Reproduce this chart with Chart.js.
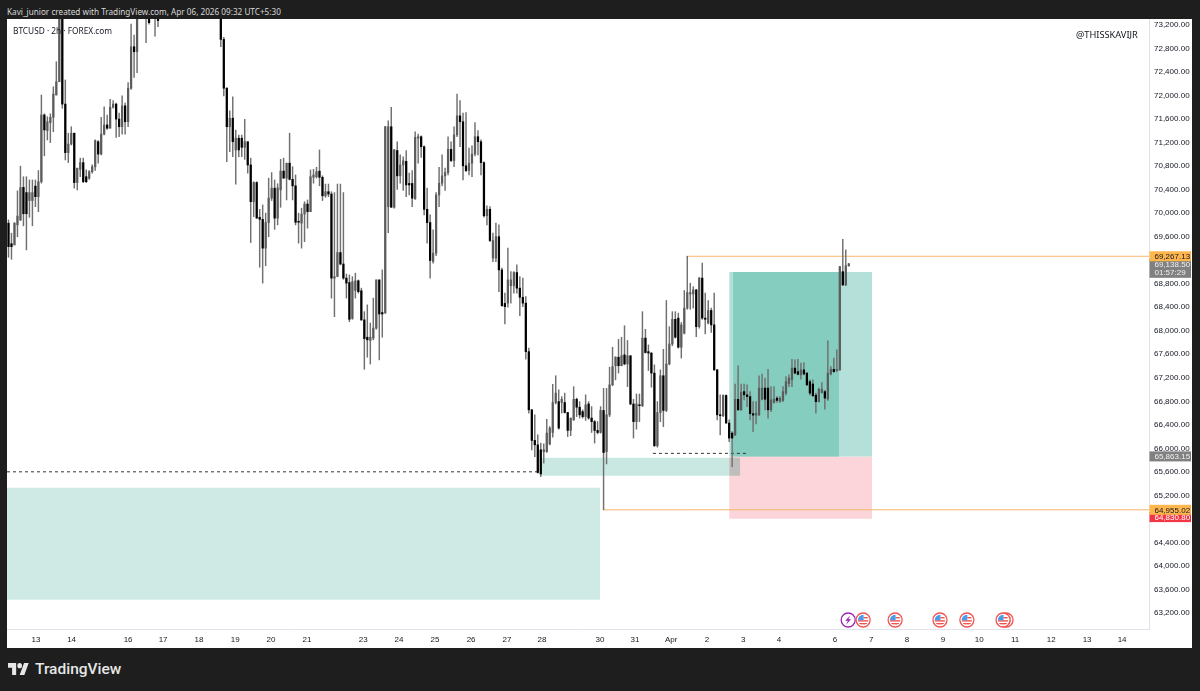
<!DOCTYPE html>
<html>
<head>
<meta charset="utf-8">
<title>BTCUSD 2h</title>
<script src="https://cdn.jsdelivr.net/npm/chart.js@4"></script>
<style>
  html, body { margin: 0; padding: 0; background: #1e1e1e; width: 1200px; height: 691px; overflow: hidden; }
  #canvas { position: absolute; left: 7px; top: 19px; background: #fff; }
  .txt { position: absolute; white-space: nowrap; font-family: "Noto Sans", sans-serif; }
  #credit { left: 7px; top: 5px; font-size: 8.2px; line-height: 14px; color: #d8d8d8; }
  #symbol { left: 13px; top: 24px; font-size: 8.3px; line-height: 14px; color: #131722; }
  #handle { left: 1076px; top: 28px; font-size: 9.25px; line-height: 14px; color: #131722; }
  #brand { left: 35px; top: 658px; font-family: Roboto, sans-serif; font-weight: 500; font-size: 15.5px; line-height: 22px; color: #e6e6e6; }
  #logo { position: absolute; left: 8px; top: 663px; }
</style>
</head>
<body>
<canvas id="canvas" width="1185" height="629"></canvas>
<div class="txt" id="credit">Kavi_junior created with TradingView.com, Apr 06, 2026 09:32 UTC+5:30</div>
<div class="txt" id="symbol">BTCUSD · 2h · FOREX.com</div>
<div class="txt" id="handle">@THISSKAVIJR</div>
<svg id="logo" width="21" height="12" viewBox="0 4 36 18" preserveAspectRatio="none"><path fill="#e6e6e6" d="M14 22H7V11H0V4h14v18zM28 22h-8l7.5-18h8L28 22z"/><circle fill="#e6e6e6" cx="20" cy="8" r="4"/></svg>
<div class="txt" id="brand">TradingView</div>
<script>
// candles (2h bars). The stretch above the top edge is a guess.
const opens = [69830,69480,69460,69800,69885,70440,70350,70215,70215,70460,70280,70535,71670,71405,71540,71630,72010,72235,73600,71855,
  71030,71175,71360,70520,70745,70860,70620,70595,70705,70790,71215,71005,71345,71500,71445,71800,71855,71600,71470,71825,
  71555,72125,72830,72745,73500,73800,73700,73400,73500,73700,73400,73400,73900,74150,74350,74500,74700,74550,74400,74550,
  74800,74900,74600,74400,74500,74650,74450,74250,74350,74050,73850,73650,72955,72125,71470,71615,71075,71275,71275,71120,
  71215,70820,70195,70520,69930,69895,69405,69840,70255,70425,69915,70395,70715,70595,70850,70575,70465,69860,69830,69985,
  70155,70025,70610,70620,70715,70610,70295,70365,70325,68895,68925,69330,69135,68895,68820,68210,68685,68850,68680,68185,
  67890,67835,67875,68045,68865,68310,68300,70110,71470,70100,71065,70635,70820,70880,70505,70505,70245,71275,71300,71130,
  70065,69840,69180,69320,70310,70510,70635,70690,71085,70895,71330,71655,71555,70805,70725,70850,71005,71300,71215,70860,
  69955,70065,69235,69235,69600,69035,68465,68470,68765,68765,68990,68725,68570,68470,67645,66655,66135,66060,65975,65945,
  65945,66075,66270,66780,66795,66780,66780,66610,66305,66485,66835,66700,66625,66540,66755,66515,66455,66305,66270,66645,
  65945,66570,67080,67405,67550,67405,67590,67435,67575,66755,66455,66740,66725,67875,67645,67620,67280,66045,66610,67235,
  66645,67435,67775,68195,68215,67720,67960,68385,68625,68625,68695,68070,68895,68215,68130,68345,68100,67335,66570,66555,
  66900,66430,66260,66230,66835,66655,66965,66910,66880,66590,66565,66570,66835,67025,67025,66655,66780,66855,66800,66815,
  66940,67100,67165,67365,67305,67250,67335,67280,67135,67095,66905,66795,66950,66965,66840,67265,67345,67325,67335,69005,
  68780,69105];
const highs = [69885,69660,69840,70380,70800,70620,70620,70565,70565,70565,70725,72010,71690,71640,71690,72150,72575,73900,73800,72265,
  71360,71470,71360,70765,70935,70935,70735,70725,70820,71245,71235,71630,71810,71670,71935,71915,71870,71700,71995,71870,
  72220,73215,73030,73700,74000,74100,74000,73700,73800,73950,73700,74100,74300,74500,74700,74900,75000,74800,74700,74950,
  75100,75000,74800,74650,74800,74850,74600,74500,74450,74200,74000,73800,72990,72135,71740,71980,71415,71330,71330,71595,
  71215,70935,70535,70535,70065,70140,70000,70595,70690,70565,70500,70915,70935,70850,71360,70790,70650,70000,70085,70195,
  70225,70735,70745,70780,71075,70635,70495,70495,70365,70350,70495,70495,70350,68965,68950,68920,68980,68865,68725,68325,
  68440,68130,68555,68865,68865,69035,71475,71570,71800,71085,71215,70990,70960,71065,70680,70725,71385,71345,71315,71145,
  70425,69970,69715,70350,70780,70990,70765,71300,71215,71470,72025,71915,71700,71710,71105,71145,71540,71405,71245,70875,
  70125,70110,69660,69830,69800,69065,68640,69405,69005,69005,69120,68920,68895,68580,67705,66665,66570,66230,66090,66075,
  66495,66370,67090,67235,66995,66880,66940,66610,66515,67050,66855,66795,66655,66910,66795,66710,66475,66455,66710,67020,
  67020,67380,67720,67560,67855,67890,68085,67835,67575,66835,66925,66925,68325,68025,67760,67630,67420,66795,67335,67685,
  68515,68070,68325,68325,68300,68140,68685,69265,68810,68750,68705,68910,69150,68640,68515,68385,68640,67345,66910,66910,
  66910,66485,66285,67095,67405,67095,67095,67080,66965,66795,66795,67235,67265,67195,67345,67050,67050,66880,66880,67050,
  67220,67250,67515,67505,67515,67450,67460,67290,67165,67165,66940,67025,67120,66985,67830,67390,67535,67675,69095,69555,
  69375,69145];
const lows = [69250,69215,69460,69600,69875,69785,69375,69930,69785,70110,70025,70510,70975,71245,71200,71385,72010,72235,71785,70905,
  70860,71160,70425,70395,70620,70520,70520,70575,70680,70725,70850,70990,71330,71425,71445,71785,71290,71300,71345,71345,
  71470,72105,72310,72390,73350,73500,72900,73215,73350,73010,73170,73350,73700,73950,74150,74300,74400,74200,74150,74400,
  74600,74450,74250,74200,74300,74350,74100,74000,73900,73700,73500,72830,71995,70875,71045,70960,70495,70960,70960,70915,
  70680,69500,69940,69915,69080,68810,69105,69600,70215,69725,69800,70100,70595,70225,70565,70225,69800,69490,69405,69515,
  69745,70025,70510,70595,70465,70215,70270,70280,68555,68240,68920,69120,68875,68555,68155,68195,68555,68640,68175,67345,
  67550,67435,67845,68025,67505,67890,68300,69670,70100,70085,70405,70510,70385,70280,70310,70110,70235,70850,70950,69970,
  69490,68895,69150,69275,70110,70465,70385,70650,70875,70790,71300,71130,70565,70705,70650,70620,70975,70990,70650,69930,
  69800,69515,69175,69175,68665,68420,68115,68400,68470,68640,68640,68255,68410,67515,66600,65975,65860,65580,65520,65750,
  65930,66060,66190,66755,66325,66600,66600,66200,66215,66475,66540,66515,66515,66475,66495,66270,66090,66245,66260,64955,
  65735,66540,67065,67165,67280,67405,67420,67050,66740,66175,66325,66455,66710,67620,67325,67040,66030,66020,66455,66370,
  66625,67420,67745,67875,67705,67535,67945,68365,68365,68385,67900,68045,68195,67945,68115,67970,67325,66485,66230,66540,
  66430,66115,65690,66215,66645,66645,66825,66710,66485,66285,66415,66555,66825,66655,66515,66625,66770,66780,66780,66795,
  66910,67050,67050,67265,67250,67175,67250,67065,66910,66880,66600,66785,66940,66665,66815,67250,67290,67305,67325,68765,
  68765,69100];
const closes = [69430,69430,69830,69950,70435,69990,69990,70350,70350,70280,70535,71670,71415,71555,71630,72025,72235,73600,71855,71030,
  71175,71360,70520,70765,70860,70535,70535,70705,70790,71235,71005,71345,71500,71445,71800,71855,71600,71470,71825,71555,
  72125,72830,72745,73500,73800,73700,73400,73240,73700,73400,73275,73900,74150,74350,74500,74700,74550,74400,74550,74800,
  74900,74600,74400,74500,74650,74450,74250,74350,74050,73850,73650,72955,72125,71470,71615,71215,71275,71075,71120,71215,
  70820,70195,70520,69915,69895,69405,69840,70255,70425,69915,70430,70715,70595,70850,70575,70465,69845,69845,69985,70155,
  70025,70620,70650,70705,70610,70295,70365,70325,68895,68920,69330,69135,68895,68810,68195,68835,68850,68665,68185,67865,
  67845,67890,68045,68865,68285,68285,71470,71470,70100,71075,70635,70820,70890,70480,70480,70255,71290,71300,71130,70065,
  69840,69195,69320,70310,70510,70635,70690,71085,70895,71330,71655,71555,70805,70725,70850,71005,71300,71215,70860,69955,
  70065,69535,69535,69600,69035,68425,68410,68865,68865,68990,68725,68570,68470,67645,66655,66135,66060,65590,65565,65975,
  66260,66345,66780,66940,66345,66835,66610,66305,66515,66835,66700,66570,66540,66740,66515,66455,66305,66270,66645,65930,
  66570,67080,67390,67550,67405,67575,67435,67575,66755,66455,66755,66725,67875,67630,67620,67280,66045,66610,67235,66645,
  67435,67775,68195,67890,67720,68100,68385,68650,68650,68695,68070,68895,68215,68195,68345,68100,67335,66570,66555,66900,
  66430,66175,66175,66835,66655,66955,66910,66880,66590,66565,66600,67025,67025,66835,66655,66825,66835,66815,66855,66965,
  67135,67195,67365,67280,67260,67335,67265,67080,66940,66895,66795,67005,67005,66855,67280,67345,67305,67335,69090,68780,
  69105,69138.5];

// axes
const priceTicks = [63200,63600,64000,64400,64800,65200,65600,66000,66400,66800,67200,67600,68000,68400,68800,69200,69600,70000,70400,70800,71200,71600,72000,72400,72800,73200];
const dayTicks = [9.7,21.6,40.5,52.2,64.2,76.3,88.3,100.3,119.1,131.1,143.1,155.2,167.2,178.9,198.3,210,222.1,234.1,246.2,258.2,276.9,289,301,313,325.1,337.1,349.2,361.2,372.9];
const dayLabels = ["13","14","16","17","18","19","20","21","23","24","25","26","27","28","30","31","Apr","2","3","4","6","7","8","9","10","11","12","13","14"];

// drawn zones: x in bars, top/bottom in price
const zones = [
  { x0: 0, x1: 198.3, top: 65329, bottom: 63425, color: "#cfeae5" },
  { x0: 241.5, x1: 289.3, top: 69001, bottom: 65856, color: "#b5e0da" },
  { x0: 242.8, x1: 278.3, top: 69001, bottom: 65856, color: "#84cdbf" },
  { x0: 241.5, x1: 289.3, top: 65856, bottom: 64802, color: "#fbd5d9" },
  { x0: 178.3, x1: 241.5, top: 65839, bottom: 65533, color: "#c9e8e2" },
  { x0: 241.5, x1: 245.2, top: 65839, bottom: 65533, color: "#bebfbd" }
];
const levels = [
  { x0: 227.1, x1: 381.9, price: 69267.13, color: "#f5b56b", dash: [] },
  { x0: 199.3, x1: 381.9, price: 64955.02, color: "#f5b56b", dash: [] },
  { x0: 0, x1: 178.3, price: 65601, color: "#333333", dash: [3, 3] },
  { x0: 216, x1: 247.8, price: 65915, color: "#333333", dash: [3, 3] }
];
const priceTags = [
  { price: 64830.80, text: "64,830.80", bg: "#f23645", fg: "#ffffff" },
  { price: 69138.50, text: "69,138.50", sub: "01:57:29", bg: "#808080", fg: "#f0f0f0" },
  { price: 65863.15, text: "65,863.15", bg: "#808080", fg: "#f0f0f0" },
  { price: 69267.13, text: "69,267.13", bg: "#ffb74d", fg: "#131722" },
  { price: 64955.02, text: "64,955.02", bg: "#ffb74d", fg: "#131722" }
];
const boltEvents = [281.3];
const flagEvents = [286.3, 297, 312, 321, 334.1, 333.1];

const axisFont = { family: "'Liberation Sans', sans-serif", size: 8 };

const datasets = [];
datasets.push({
  type: "bar", order: 0, grouped: false, barThickness: 1.6, minBarLength: 1,
  data: opens.map((o, i) => ({ x: i + 0.5, y: [o, closes[i]] })),
  backgroundColor: opens.map((o, i) => closes[i] >= o ? "#5c5c5c" : "#000000")
});
datasets.push({
  type: "bar", order: 1, grouped: false, barThickness: 0.8,
  data: lows.map((l, i) => ({ x: i + 0.5, y: [l, highs[i]] })),
  backgroundColor: "#707070"
});
levels.forEach(l => {
  datasets.push({
    type: "line", order: 2, pointRadius: 0, borderWidth: 1, borderColor: l.color, borderDash: l.dash, fill: false,
    data: [{ x: l.x0, y: l.price }, { x: l.x1, y: l.price }]
  });
});
zones.forEach((z, i) => {
  datasets.push({
    type: "line", order: 20 - i, pointRadius: 0, borderWidth: 0, backgroundColor: z.color,
    fill: { target: { value: z.bottom } },
    data: [{ x: z.x0, y: z.top }, { x: z.x1, y: z.top }]
  });
});

function drawFlag(ctx, x, y) {
  ctx.save();
  ctx.beginPath(); ctx.arc(x, y, 7, 0, Math.PI * 2);
  ctx.fillStyle = "#fff"; ctx.fill();
  ctx.strokeStyle = "#ef5350"; ctx.lineWidth = 1.3; ctx.stroke();
  ctx.beginPath(); ctx.arc(x, y, 5.2, 0, Math.PI * 2); ctx.clip();
  ctx.fillStyle = "#ef5350";
  ctx.fillRect(x - 6, y + 0.2, 12, 1.4);
  ctx.fillRect(x - 6, y + 3, 12, 1.4);
  ctx.fillRect(x + 0.5, y - 3, 6, 1.4);
  ctx.fillStyle = "#4a9be8";
  ctx.fillRect(x - 6, y - 6, 6.5, 6.2);
  ctx.restore();
}

function drawBolt(ctx, x, y) {
  ctx.save();
  ctx.beginPath(); ctx.arc(x, y, 7, 0, Math.PI * 2);
  ctx.fillStyle = "#fff"; ctx.fill();
  ctx.strokeStyle = "#9c27b0"; ctx.lineWidth = 1.3; ctx.stroke();
  ctx.fillStyle = "#9c27b0";
  ctx.beginPath();
  ctx.moveTo(x + 2, y - 4.5); ctx.lineTo(x - 3, y + 0.8); ctx.lineTo(x - 0.3, y + 0.8);
  ctx.lineTo(x - 2, y + 4.5); ctx.lineTo(x + 3, y - 0.8); ctx.lineTo(x + 0.3, y - 0.8);
  ctx.closePath(); ctx.fill();
  ctx.restore();
}

const overlays = {
  id: "overlays",
  afterDraw(chart) {
    const ctx = chart.ctx, xs = chart.scales.x, ys = chart.scales.y;
    const eventY = chart.chartArea.bottom - 9;
    boltEvents.forEach(v => drawBolt(ctx, xs.getPixelForValue(v), eventY));
    flagEvents.forEach(v => drawFlag(ctx, xs.getPixelForValue(v), eventY));

    ctx.font = "8px 'Liberation Sans', sans-serif";
    ctx.textBaseline = "middle";
    ctx.textAlign = "left";
    const left = chart.chartArea.right + 0.5;
    priceTags.forEach(t => {
      const y = ys.getPixelForValue(t.price);
      const h = t.sub ? 19 : 10;
      const top = y - 5;
      ctx.fillStyle = t.bg;
      ctx.fillRect(left, top, 41.5, h);
      ctx.fillStyle = t.fg;
      ctx.fillText(t.text, left + 5, y + 0.5);
      if (t.sub) ctx.fillText(t.sub, left + 5, y + 9);
    });
  }
};

function noPadding(s) {
  s.paddingTop = 0; s.paddingBottom = 0; s.paddingLeft = 0; s.paddingRight = 0;
}

new Chart(document.getElementById("canvas").getContext("2d"), {
  data: { datasets: datasets },
  plugins: [overlays],
  options: {
    responsive: false,
    animation: false,
    layout: { padding: 0 },
    plugins: { legend: { display: false }, tooltip: { enabled: false } },
    scales: {
      x: {
        type: "linear", offset: false, min: 0, max: 381.9,
        grid: { display: false, drawTicks: false },
        border: { color: "#e0e3eb" },
        afterBuildTicks: s => { s.ticks = dayTicks.map(v => ({ value: v })); },
        afterFit: s => { s.height = 19; noPadding(s); },
        ticks: {
          autoSkip: false, maxRotation: 0, padding: 6, color: "#131722", font: axisFont,
          callback: (v, i) => dayLabels[i]
        }
      },
      y: {
        position: "right", min: 62928, max: 73302,
        grid: { display: false, drawTicks: false },
        border: { color: "#e0e3eb" },
        afterBuildTicks: s => { s.ticks = priceTicks.map(v => ({ value: v })); },
        afterFit: s => { s.width = 43; noPadding(s); },
        ticks: {
          padding: 5, color: "#131722", font: axisFont,
          callback: v => v.toLocaleString("en-US", { minimumFractionDigits: 2 })
        }
      }
    }
  }
});
</script>
</body>
</html>
